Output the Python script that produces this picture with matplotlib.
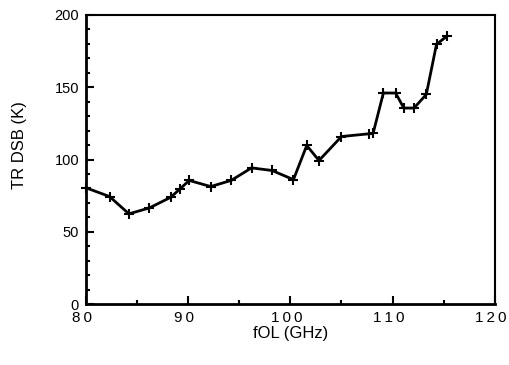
import matplotlib.pyplot as plt
import matplotlib.transforms as mtransforms
from matplotlib.ticker import MultipleLocator, FuncFormatter

plt.rcParams["font.family"] = ["Liberation Sans", "DejaVu Sans"]

# local oscillator frequency (GHz) and receiver DSB noise temperature (K)
f_ol = [80.0, 82.3, 84.2, 86.2, 88.3, 89.2, 90.1, 92.2, 94.2, 96.2, 98.2,
        100.3, 101.6, 102.8, 105.0, 107.7, 108.1, 109.1, 110.3, 111.1,
        112.1, 113.3, 114.3, 115.3]
t_rx = [80.4, 74.4, 62.4, 66.5, 73.9, 79.7, 85.5, 81.3, 85.5, 94.2, 92.4,
        86.1, 109.7, 99.3, 115.9, 117.8, 118.2, 146.0, 146.0, 135.6,
        135.6, 145.0, 179.7, 185.2]


def spaced(v, pos):
    # the scanned x labels are drawn with wide letter spacing
    return "\u2009".join(str(int(round(v))))


fig = plt.figure(figsize=(5.09, 3.65), dpi=100)
ax = fig.add_axes([0.169, 0.167, 0.803, 0.792])

ax.plot(f_ol, t_rx, color="black", lw=2.0, marker="+", ms=7.5, mew=1.5,
        clip_on=False)

ax.set_xlim(80, 120)
ax.set_ylim(0, 200)
ax.xaxis.set_major_locator(MultipleLocator(10))
ax.xaxis.set_minor_locator(MultipleLocator(5))
ax.yaxis.set_major_locator(MultipleLocator(50))
ax.yaxis.set_minor_locator(MultipleLocator(10))
ax.xaxis.set_major_formatter(FuncFormatter(spaced))

ax.tick_params(which="both", direction="in", top=False, right=False,
               width=1.5, color="black")
ax.tick_params(which="major", length=6)
ax.tick_params(which="minor", length=3)
ax.tick_params(axis="x", labelsize=11, pad=5)
ax.tick_params(axis="y", labelsize=10.5, pad=5)

# labels in the scan sit a little left of their ticks
shift = mtransforms.ScaledTranslation(-4 / 100, 0, fig.dpi_scale_trans)
for lab in ax.get_xticklabels():
    lab.set_transform(lab.get_transform() + shift)

for side in ["bottom", "left"]:
    ax.spines[side].set_linewidth(2.0)
for side in ["top", "right"]:
    ax.spines[side].set_linewidth(1.5)

ax.set_xlabel("fOL (GHz)", fontsize=12)
ax.xaxis.set_label_coords(0.5, -0.075)
ax.set_ylabel("TR DSB (K)", fontsize=12)
ax.yaxis.set_label_coords(-0.145, 0.55)

fig.savefig("out.png", dpi=100)
